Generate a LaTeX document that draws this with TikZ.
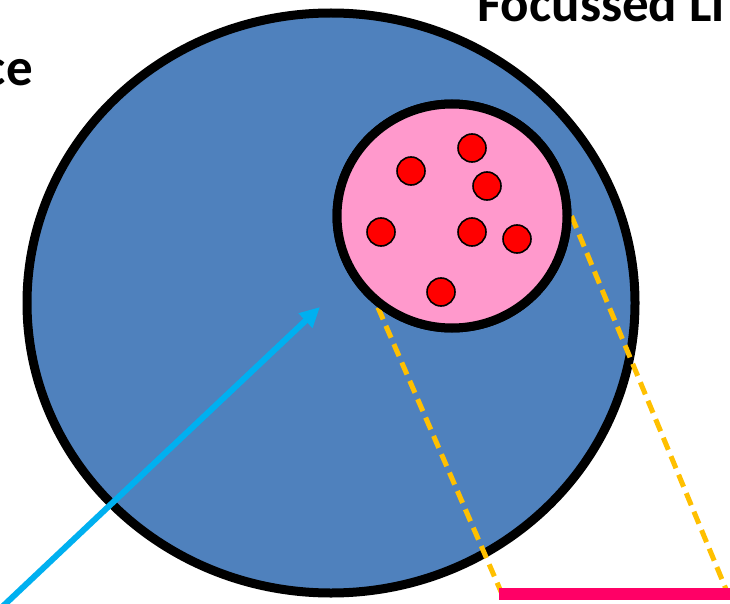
\documentclass[tikz,border=0pt]{standalone}
\usepackage{fontspec}
\setmainfont{Carlito}
\usetikzlibrary{shapes.geometric,arrows.meta}
\definecolor{bigblue}{HTML}{4F81BD}
\definecolor{pinkfill}{HTML}{FF99CC}
\definecolor{dotred}{HTML}{FF0000}
\definecolor{dashyel}{HTML}{FFC000}
\definecolor{arrowblue}{HTML}{00B0F0}
\definecolor{barpink}{HTML}{FF0066}
\tikzset{
  region/.style={ellipse, draw=black, line width=9pt, inner sep=0pt},
  dot/.style={circle, draw=black, fill=dotred, line width=1.6pt, minimum size=28pt, inner sep=0pt},
  proj/.style={draw=dashyel, line width=5pt, dash pattern=on 13pt off 7pt},
  bar/.style={draw=barpink, line width=12pt},
  pointer/.style={draw=arrowblue, line width=6pt, -{Triangle[length=20pt,width=19pt]}},
  title/.style={font=\fontsize{53}{60}\selectfont\bfseries, inner sep=0pt}
}
\begin{document}
\begin{tikzpicture}[x=1pt, y=-1pt]
\useasboundingbox (0,0) rectangle (730,604);
\clip (0,0) rectangle (730,604);
\fill[white] (0,0) rectangle (730,604);
% big region
\node[region, fill=bigblue, minimum width=608pt, minimum height=580pt] (big) at (331,303) {};
% focussed sub-region
\node[region, fill=pinkfill, minimum width=230pt, minimum height=224pt] (small) at (452,216) {};
% projection end points
\coordinate (pl) at (502,594);
\coordinate (pr) at (728,594);
\coordinate (pl2) at (499,594);
\coordinate (pr2) at (733,594);
\draw[proj] (small.231) -- (pl);
\draw[proj] (small.0) -- (pr);
% redraw small region on top of dashed starts
\node[region, fill=pinkfill, minimum width=230pt, minimum height=224pt] (small2) at (452,216) {};
% dots
\node[dot] (d1) at (411,171) {};
\node[dot] (d2) at (472,148) {};
\node[dot] (d3) at (487,186) {};
\node[dot] (d4) at (381,232) {};
\node[dot] (d5) at (472,232) {};
\node[dot] (d6) at (517,239) {};
\node[dot] (d7) at (441,292) {};
% bar
\draw[bar] (pl2) -- (pr2);
% arrow
\coordinate (as) at (1,608);
\coordinate (at) at (320,307);
\draw[pointer] (as) -- (at);
% texts
\node[title, anchor=base east] (t1) at (33,86) {ce};
\node[title, anchor=base west] (t2) at (477,22) {Focussed Li};
\end{tikzpicture}
\end{document}
